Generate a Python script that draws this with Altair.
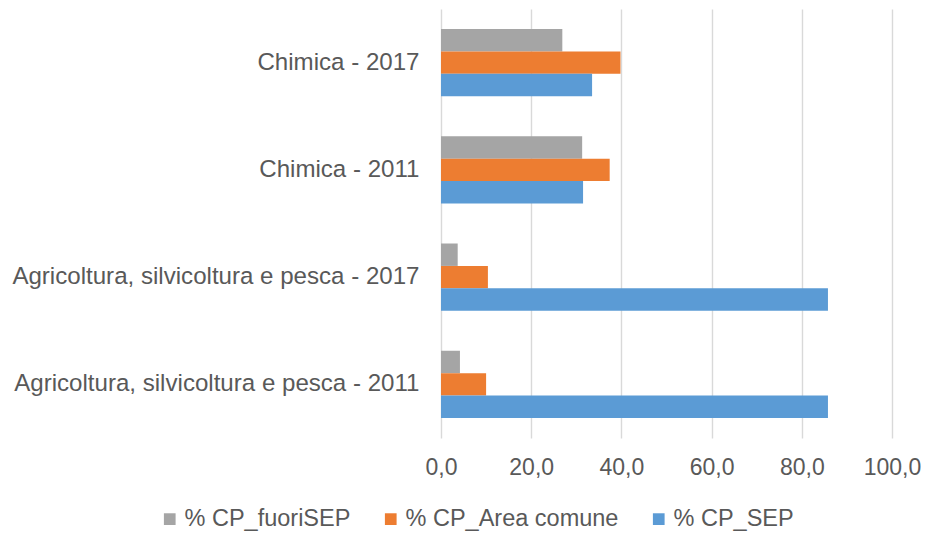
import altair as alt
import pandas as pd

categories = [
    "Chimica - 2017",
    "Chimica - 2011",
    "Agricoltura, silvicoltura e pesca - 2017",
    "Agricoltura, silvicoltura e pesca - 2011",
]
series = ["% CP_fuoriSEP", "% CP_Area comune", "% CP_SEP"]
colors = ["#A5A5A5", "#ED7D31", "#5B9BD5"]

fuori_sep = [26.9, 31.3, 3.7, 4.2]
area_comune = [39.8, 37.4, 10.4, 10.0]
sep = [33.5, 31.5, 85.8, 85.8]

rows = []
for i, c in enumerate(categories):
    for s, vals in zip(series, [fuori_sep, area_comune, sep]):
        rows.append({"categoria": c, "serie": s, "valore": vals[i]})
df = pd.DataFrame(rows)

FONT = "Liberation Sans"
TXT = "#595959"

chart = alt.Chart(df).mark_bar().encode(
    x=alt.X(
        "valore:Q",
        scale=alt.Scale(domain=[0, 100], nice=False),
        axis=alt.Axis(
            values=[0, 20, 40, 60, 80, 100],
            labelExpr="replace(format(datum.value, '.1f'), '.', ',')",
            title=None,
            domain=False,
            ticks=False,
            grid=True,
            gridColor="#D9D9D9",
            gridWidth=1.4,
            labelFont=FONT,
            labelFontSize=23,
            labelColor=TXT,
            labelPadding=18,
            labelFlush=False,
        ),
    ),
    y=alt.Y(
        "categoria:N",
        sort=categories,
        scale=alt.Scale(paddingInner=0.373, paddingOuter=0.1865),
        axis=alt.Axis(
            title=None,
            domain=False,
            ticks=False,
            labelFont=FONT,
            labelFontSize=24.1,
            labelColor=TXT,
            labelPadding=22,
            labelLimit=600,
        ),
    ),
    yOffset=alt.YOffset("serie:N", sort=series, scale=alt.Scale(paddingInner=0, paddingOuter=0)),
    color=alt.Color(
        "serie:N",
        sort=series,
        scale=alt.Scale(domain=series, range=colors),
        legend=alt.Legend(
            title=None,
            orient="none",
            direction="horizontal",
            legendX=-283,
            legendY=498,
            symbolType="square",
            symbolSize=137,
            symbolStrokeWidth=0,
            labelFont=FONT,
            labelFontSize=23.5,
            labelColor=TXT,
            labelOffset=3,
            labelLimit=400,
            columnPadding=28,
            padding=0,
        ),
    ),
).properties(
    width=451,
    height=429,
    padding={"top": 1, "left": 3, "right": 0, "bottom": 5},
).configure_view(stroke=None)

chart.save("out.html", embed_options={"renderer": "svg", "actions": False})
